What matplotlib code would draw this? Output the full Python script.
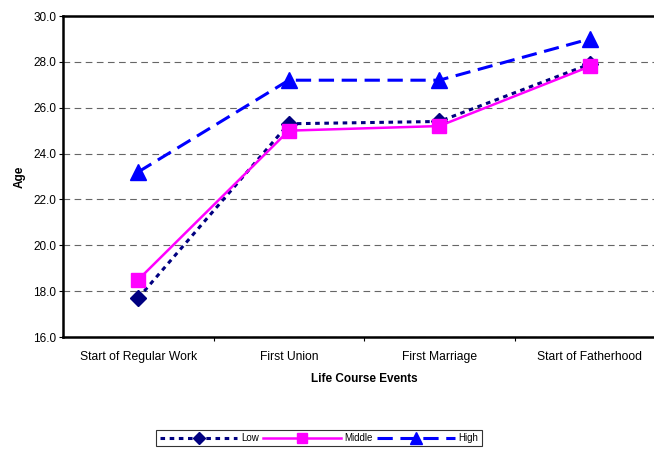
import numpy as np
import matplotlib.pyplot as plt

plt.rcParams['font.family'] = ['Liberation Sans', 'DejaVu Sans']

# Data
events = ['Start of Regular Work', 'First Union', 'First Marriage', 'Start of Fatherhood']
low    = [17.7, 25.3, 25.4, 27.9]
middle = [18.5, 25.0, 25.2, 27.8]
high   = [23.2, 27.2, 27.2, 29.0]

fig = plt.figure(figsize=(6.54, 4.5), dpi=100)
# plot area runs a little past the right edge, like the original
ax = fig.add_axes([63/654, 113/450, 602/654, 321/450])

x = np.arange(len(events))

ax.plot(x, low, color='#000080', linestyle=(0, (1.5, 1.5)), linewidth=2.2,
        marker='D', markersize=8, label='Low', zorder=3)
ax.plot(x, middle, color='#FF00FF', linestyle='-', linewidth=1.8,
        marker='s', markersize=10.5, label='Middle', zorder=4)
ax.plot(x, high, color='#0000FF', linestyle=(0, (5, 2.5)), linewidth=2.2,
        marker='^', markersize=11, label='High', zorder=3)

ax.set_xlim(-0.5, 3.5)
ax.set_ylim(16, 30)
ax.set_yticks(np.arange(16, 30.1, 2))
ax.set_yticklabels([f'{v:.1f}' for v in np.arange(16, 30.1, 2)], fontsize=8.5)

ax.set_xticks(x)
ax.set_xticklabels(events, fontsize=8.7)
ax.tick_params(axis='x', which='major', length=0, pad=10)
ax.set_xticks(np.arange(0.5, 3.5, 1), minor=True)
ax.tick_params(axis='x', which='minor', length=3, direction='out', width=0.8)
ax.tick_params(axis='y', length=3, width=0.8, pad=2)

ax.yaxis.grid(True, linestyle=(0, (6, 4)), color='#666666', linewidth=0.8)
ax.set_axisbelow(True)

for side in ['left', 'top', 'bottom']:
    ax.spines[side].set_linewidth(1.8)
ax.spines['right'].set_visible(False)

ax.set_ylabel('Age', fontsize=8.5, fontweight='bold', labelpad=5)
ax.set_xlabel('Life Course Events', fontsize=8.5, fontweight='bold', labelpad=7)

leg = fig.legend(loc='center', bbox_to_anchor=(319/654, 1 - 438/450), ncol=3,
                 fontsize=7, frameon=True, fancybox=False, edgecolor='black',
                 handlelength=8, handletextpad=0.4, columnspacing=0.4,
                 borderpad=0.35, markerscale=0.75)
leg.get_frame().set_linewidth(0.8)

fig.savefig('out.png', dpi=100)
